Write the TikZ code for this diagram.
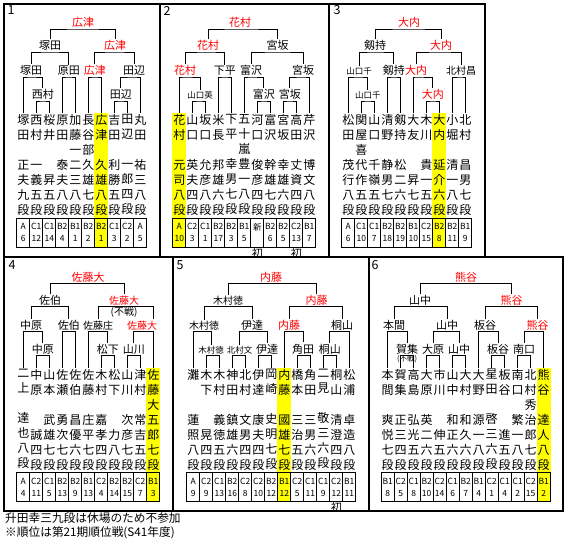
\documentclass[tikz,border=0pt]{standalone}
\usepackage{fontspec}
\setmainfont{Noto Sans CJK JP}
\usepackage{xcolor}
\usepackage{tikz}
\usetikzlibrary{positioning, backgrounds}
\definecolor{rojo}{HTML}{FF0000}
\definecolor{resalte}{HTML}{FFFF00}
\newcommand{\vac}{\phantom{段}}

\begin{document}
\begin{tikzpicture}[
    x=1pt, y=-1pt,
    marco/.style={line width=2pt},
    llave/.style={line width=0.9pt},
    rotulo/.style={anchor=south, inner sep=1.2pt, font=\fontsize{11}{11}\selectfont},
    rotulom/.style={rotulo, font=\fontsize{10}{10}\selectfont},
    rotuloc/.style={rotulo, font=\fontsize{8.5}{8.5}\selectfont},
    gana/.style={text=rojo},
    jugador/.style={anchor=north, align=center, inner xsep=0pt, inner ysep=1.5pt, font=\fontsize{12}{15}\selectfont},
    celda/.style={draw, line width=0.8pt, minimum width=13pt, minimum height=29pt, inner sep=0pt, align=center, font=\fontsize{8.5}{12}\selectfont},
    numero/.style={inner sep=0pt, font=\fontsize{12.5}{12.5}\selectfont},
    inicio/.style={inner sep=0.5pt, font=\fontsize{11}{11}\selectfont},
    fusen/.style={inner sep=0pt, font=\fontsize{10}{10}\selectfont},
    nota/.style={anchor=west, inner sep=0pt, font=\fontsize{11.7}{11.7}\selectfont},
]
\useasboundingbox (0,0) rectangle (568,541);

\draw[marco] (3.5,3.5) rectangle (485,257);
\draw[marco] (3.5,257) rectangle (562.5,510.5);
\draw[marco] (160,3.5) -- (160,257);
\draw[marco] (329,3.5) -- (329,257);
\draw[marco] (173,257) -- (173,510.5);
\draw[marco] (368.5,257) -- (368.5,510.5);

% ---- 1 ----
\node[numero] (n1) at (11, 10.5) {1};
\foreach \xa/\xb/\xc/\xd/\xe/\xf/\cla/\num [count=\i] in {
    塚/田/\vac/正/夫/九/A/6, 西/村/\vac/一/義/五/C1/12, 桜/井/\vac/\vac/昇/五/C1/14,
    原/田/\vac/泰/夫/八/B2/4, 加/藤/一/二/三/八/B1/1, 長/谷/部/久/雄/七/B2/2,
    広/津/\vac/久/雄/八/B2/1, 吉/田/\vac/利/勝/五/C1/3, 田/辺/\vac/一/郎/四/C2/2,
    丸/田/\vac/祐/三/八/A/5} {
  \node[jugador] (p1-\i) at ({23.3+13*(\i-1)}, 113)   {\xa\\\xb\\\xc\\\xd\\\xe\\\xf\\段};
  \node[celda]   (c1-\i) at ({23.3+13*(\i-1)}, 232.5) {\cla\\\num};
}
\begin{scope}[on background layer]
  \fill[resalte] (c1-7.west |- p1-7.north) rectangle (c1-7.south east);
\end{scope}

\node[rotulo, gana] (p1-f)  at (83, 29)     {広津};
\node[rotulo]       (p1-s1) at (50, 52)     {塚田};
\node[rotulo, gana] (p1-s2) at (115, 52)    {広津};
\node[rotulo]       (p1-q1) at (31, 77)     {塚田};
\node[rotulo]       (p1-q2) at (68.8, 77)   {原田};
\node[rotulo, gana] (p1-q3) at (94.8, 77)   {広津};
\node[rotulo]       (p1-q4) at (134, 77)    {田辺};
\node[rotulo]       (p1-r1) at (42.8, 101)  {西村};
\node[rotulo]       (p1-r2) at (120.8, 101) {田辺};

\draw[llave] (p1-s1.north) |- (p1-f.south)  -| (p1-s2.north);
\draw[llave] (p1-q1.north) |- (p1-s1.south) -| (p1-q2.north);
\draw[llave] (p1-q3.north) |- (p1-s2.south) -| (p1-q4.north);
\draw[llave] (p1-1.north)  |- (p1-q1.south) -| (p1-r1.north);
\draw[llave] (p1-2.north)  |- (p1-r1.south) -| (p1-3.north);
\draw[llave] (p1-4.north)  |- (p1-q2.south) -| (p1-5.north);
\draw[llave] (p1-6.north)  |- (p1-q3.south) -| (p1-7.north);
\draw[llave] (p1-r2.north) |- (p1-q4.south) -| (p1-10.north);
\draw[llave] (p1-8.north)  |- (p1-r2.south) -| (p1-9.north);

% ---- 2 ----
\node[numero] (n2) at (167, 10.5) {2};
\foreach \xa/\xb/\xc/\xd/\xe/\xf/\cla/\num [count=\i] in {
    花/村/\vac/元/司/八/A/10, 山/口/\vac/英/夫/四/C2/3, 坂/口/\vac/允/彦/八/C1/1,
    米/長/\vac/邦/雄/六/B2/17, 下/平/\vac/幸/男/七/B2/3, 五/十/嵐/豊/一/八/B1/5,
    河/口/\vac/俊/彦/四/新/\phantom{0}, 富/沢/\vac/幹/雄/七/B2/6, 宮/坂/\vac/幸/雄/六/B2/5,
    高/田/\vac/丈/資/四/C2/13, 芹/沢/\vac/博/文/八/B1/7} {
  \node[jugador] (p2-\i) at ({179.3+13*(\i-1)}, 113)   {\xa\\\xb\\\xc\\\xd\\\xe\\\xf\\段};
  \node[celda]   (c2-\i) at ({179.3+13*(\i-1)}, 232.5) {\cla\\\num};
}
\begin{scope}[on background layer]
  \fill[resalte] (c2-1.west |- p2-1.north) rectangle (c2-1.south east);
\end{scope}
\node[inicio, below=0pt of c2-7]  (p2-ini1) {初};
\node[inicio, below=0pt of c2-10] (p2-ini2) {初};

\node[rotulo, gana] (p2-f)  at (240, 29)     {花村};
\node[rotulo, gana] (p2-s1) at (208, 52)     {花村};
\node[rotulo]       (p2-s2) at (277.5, 52)   {宮坂};
\node[rotulo, gana] (p2-q1) at (185, 77)     {花村};
\node[rotulo]       (p2-q2) at (224.8, 77)   {下平};
\node[rotulo]       (p2-q3) at (251, 77)     {富沢};
\node[rotulo]       (p2-q4) at (303, 77)     {宮坂};
\node[rotuloc]      (p2-r1) at (200, 101)    {山口英};
\node[rotulo]       (p2-r3) at (263.8, 101)  {富沢};
\node[rotulo]       (p2-r4) at (289.8, 101)  {宮坂};

\draw[llave] (p2-s1.north) |- (p2-f.south)  -| (p2-s2.north);
\draw[llave] (p2-q1.north) |- (p2-s1.south) -| (p2-q2.north);
\draw[llave] (p2-q3.north) |- (p2-s2.south) -| (p2-q4.north);
\draw[llave] (p2-1.north)  |- (p2-q1.south) -| (p2-r1.north);
\draw[llave] (p2-2.north)  |- (p2-r1.south) -| (p2-3.north);
\draw[llave] (p2-4.north)  |- (p2-q2.south) -| (p2-5.north);
\draw[llave] (p2-6.north)  |- (p2-q3.south) -| (p2-r3.north);
\draw[llave] (p2-7.north)  |- (p2-r3.south) -| (p2-8.north);
\draw[llave] (p2-r4.north) |- (p2-q4.south) -| (p2-11.north);
\draw[llave] (p2-9.north)  |- (p2-r4.south) -| (p2-10.north);

% ---- 3 ----
\node[numero] (n3) at (337, 10.5) {3};
\foreach \xa/\xb/\xc/\xd/\xe/\xf/\cla/\num [count=\i] in {
    松/田/\vac/茂/行/八/A/6, 関/屋/喜/代/作/五/C1/10, 山/口/\vac/千/嶺/五/C1/7,
    清/野/\vac/静/男/七/B2/18, 剱/持/\vac/松/二/六/B2/19, 大/友/\vac/\vac/昇/七/B1/10,
    木/川/\vac/貴/一/五/C2/15, 大/内/\vac/延/介/六/B2/8, 小/堀/\vac/清/一/八/B2/11,
    北/村/\vac/昌/男/七/B1/9} {
  \node[jugador] (p3-\i) at ({348.3+13*(\i-1)}, 113)   {\xa\\\xb\\\xc\\\xd\\\xe\\\xf\\段};
  \node[celda]   (c3-\i) at ({348.3+13*(\i-1)}, 232.5) {\cla\\\num};
}
\begin{scope}[on background layer]
  \fill[resalte] (c3-8.west |- p3-8.north) rectangle (c3-8.south east);
\end{scope}

\node[rotulo, gana] (p3-f)  at (409, 29)     {大内};
\node[rotulo]       (p3-s1) at (375, 52)     {剱持};
\node[rotulo, gana] (p3-s2) at (441, 52)     {大内};
\node[rotuloc]      (p3-q1) at (359, 77)     {山口千};
\node[rotulo]       (p3-q2) at (393.8, 77)   {剱持};
\node[rotulo, gana] (p3-q3) at (416, 77)     {大内};
\node[rotulom]      (p3-q4) at (461, 77)     {北村昌};
\node[rotuloc]      (p3-r1) at (367.8, 101)  {山口千};
\node[rotulo, gana] (p3-r3) at (432.8, 101)  {大内};

\draw[llave] (p3-s1.north) |- (p3-f.south)  -| (p3-s2.north);
\draw[llave] (p3-q1.north) |- (p3-s1.south) -| (p3-q2.north);
\draw[llave] (p3-q3.north) |- (p3-s2.south) -| (p3-q4.north);
\draw[llave] (p3-1.north)  |- (p3-q1.south) -| (p3-r1.north);
\draw[llave] (p3-2.north)  |- (p3-r1.south) -| (p3-3.north);
\draw[llave] (p3-4.north)  |- (p3-q2.south) -| (p3-5.north);
\draw[llave] (p3-6.north)  |- (p3-q3.south) -| (p3-r3.north);
\draw[llave] (p3-7.north)  |- (p3-r3.south) -| (p3-8.north);
\draw[llave] (p3-9.north)  |- (p3-q4.south) -| (p3-10.north);

\begin{scope}[yshift=-254.5pt]
% ---- 4 ----
\node[numero] (n4) at (12, 10.5) {4};
\foreach \xa/\xb/\xc/\xd/\xe/\xf/\cla/\num [count=\i] in {
    二/上/\vac/達/也/八/A/4, 中/原/\vac/\vac/誠/四/C2/11, 山/本/\vac/武/雄/七/C1/5,
    佐/瀬/\vac/勇/次/七/B2/13, 佐/伯/\vac/昌/優/六/B2/9, 佐/藤/\vac/庄/平/七/B1/13,
    木/村/\vac/嘉/孝/四/C2/4, 松/下/\vac/\vac/力/八/B2/14, 山/川/\vac/次/彦/七/B2/15,
    津/村/\vac/常/吉/五/C2/7, 佐/藤/大/五/郎/七/B1/3} {
  \node[jugador] (p4-\i) at ({23.3+13*(\i-1)}, 113)   {\xa\\\xb\\\xc\\\xd\\\xe\\\xf\\段};
  \node[celda]   (c4-\i) at ({23.3+13*(\i-1)}, 232.5) {\cla\\\num};
}
\begin{scope}[on background layer]
  \fill[resalte] (c4-11.west |- p4-11.north) rectangle (c4-11.south east);
\end{scope}

\node[rotulo, gana]  (p4-f)  at (88, 29)     {佐藤大};
\node[rotulo]        (p4-s1) at (50, 52)     {佐伯};
\node[rotulom, gana] (p4-s2) at (124, 52)    {佐藤大};
\node[fusen, below=0pt of p4-s2] (p4-fusen) {(不戦)};
\node[rotulo]        (p4-q1) at (31, 77)     {中原};
\node[rotulo]        (p4-q2) at (68.8, 77)   {佐伯};
\node[rotulom]       (p4-q3) at (98, 77)     {佐藤庄};
\node[rotulom, gana] (p4-q4) at (142, 77)    {佐藤大};
\node[rotulo]        (p4-r1) at (42.8, 101)  {中原};
\node[rotulo]        (p4-r3) at (107.8, 101) {松下};
\node[rotulo]        (p4-r4) at (133.8, 101) {山川};

\draw[llave] (p4-s1.north) |- (p4-f.south)  -| (p4-s2.north);
\draw[llave] (p4-q1.north) |- (p4-s1.south) -| (p4-q2.north);
\draw[llave] (p4-q3.north) |- (p4-s2.south) -| (p4-q4.north -| p4-11);
\draw[llave] (p4-1.north)  |- (p4-q1.south) -| (p4-r1.north);
\draw[llave] (p4-2.north)  |- (p4-r1.south) -| (p4-3.north);
\draw[llave] (p4-4.north)  |- (p4-q2.south) -| (p4-5.north);
\draw[llave] (p4-6.north)  |- (p4-q3.south) -| (p4-r3.north);
\draw[llave] (p4-7.north)  |- (p4-r3.south) -| (p4-8.north);
\draw[llave] (p4-r4.north) |- (p4-q4.south) -| (p4-11.north);
\draw[llave] (p4-9.north)  |- (p4-r4.south) -| (p4-10.north);

% ---- 5 ----
\node[numero] (n5) at (180, 10.5) {5};
\foreach \xa/\xb/\xc/\xd/\xe/\xf/\cla/\num [count=\i] in {
    灘/\vac/\vac/蓮/照/八/A/9, 木/下/\vac/\vac/晃/四/C2/9, 木/村/\vac/義/徳/五/C1/13,
    神/田/\vac/鎮/雄/六/B2/16, 北/村/\vac/文/男/四/C2/8, 伊/達/\vac/康/夫/四/C2/10,
    岡/崎/\vac/史/明/七/B2/12, 内/藤/\vac/國/雄/七/B1/12, 橋/本/\vac/三/治/五/C2/5,
    角/田/\vac/三/男/六/C1/11, 二/見/\vac/敬/三/六/C1/9, 桐/山/\vac/清/澄/四/C2/12,
    松/浦/\vac/卓/造/八/B1/11} {
  \node[jugador] (p5-\i) at ({193.3+13*(\i-1)}, 113)   {\xa\\\xb\\\xc\\\xd\\\xe\\\xf\\段};
  \node[celda]   (c5-\i) at ({193.3+13*(\i-1)}, 232.5) {\cla\\\num};
}
\begin{scope}[on background layer]
  \fill[resalte] (c5-8.west |- p5-8.north) rectangle (c5-8.south east);
\end{scope}
\node[inicio, below=0pt of c5-12] (p5-ini1) {初};

\node[rotulo, gana] (p5-f)  at (271, 29)     {内藤};
\node[rotulom]      (p5-s1) at (228, 52)     {木村徳};
\node[rotulo, gana] (p5-s2) at (316.5, 52)   {内藤};
\node[rotulom]      (p5-q1) at (204, 77)     {木村徳};
\node[rotulo]       (p5-q2) at (252, 77)     {伊達};
\node[rotulo, gana] (p5-q3) at (289, 77)     {内藤};
\node[rotulo]       (p5-q4) at (342, 77)     {桐山};
\node[rotuloc]      (p5-r1) at (211, 101)    {木村徳};
\node[rotuloc]      (p5-r2) at (239.5, 101)  {北村文};
\node[rotulo]       (p5-r3) at (267, 101)    {伊達};
\node[rotulo]       (p5-r4) at (303, 101)    {角田};
\node[rotulo]       (p5-r5) at (329.8, 101)  {桐山};

\draw[llave] (p5-s1.north) |- (p5-f.south)  -| (p5-s2.north);
\draw[llave] (p5-q1.north) |- (p5-s1.south) -| (p5-q2.north);
\draw[llave] (p5-q3.north) |- (p5-s2.south) -| (p5-q4.north);
\draw[llave] (p5-1.north)  |- (p5-q1.south) -| (p5-r1.north);
\draw[llave] (p5-2.north)  |- (p5-r1.south) -| (p5-3.north);
\draw[llave] (p5-r2.north) |- (p5-q2.south) -| (p5-r3.north);
\draw[llave] (p5-4.north)  |- (p5-r2.south) -| (p5-5.north);
\draw[llave] (p5-6.north)  |- (p5-r3.south) -| (p5-7.north);
\draw[llave] (p5-8.north)  |- (p5-q3.south) -| (p5-r4.north);
\draw[llave] (p5-9.north)  |- (p5-r4.south) -| (p5-10.north);
\draw[llave] (p5-r5.north) |- (p5-q4.south) -| (p5-13.north);
\draw[llave] (p5-11.north) |- (p5-r5.south) -| (p5-12.north);

% ---- 6 ----
\node[numero] (n6) at (375, 10.5) {6};
\foreach \xa/\xb/\xc/\xd/\xe/\xf/\cla/\num [count=\i] in {
    本/間/\vac/爽/悦/七/B1/8, 賀/集/\vac/正/三/四/C2/5, 高/島/\vac/弘/光/五/C1/8,
    大/原/\vac/英/二/六/B2/10, 市/川/\vac/\vac/伸/五/C2/14, 山/中/\vac/和/正/六/C1/6,
    大/村/\vac/和/久/六/B2/7, 大/野/\vac/源/一/八/B1/4, 星/田/\vac/啓/三/六/C2/1,
    板/谷/\vac/\vac/進/五/C1/4, 南/口/\vac/繁/一/八/C1/2, 北/村/秀/治/郎/七/C2/15,
    熊/谷/\vac/達/人/八/B1/2} {
  \node[jugador] (p6-\i) at ({387.7+13*(\i-1)}, 113)   {\xa\\\xb\\\xc\\\xd\\\xe\\\xf\\段};
  \node[celda]   (c6-\i) at ({387.7+13*(\i-1)}, 232.5) {\cla\\\num};
}
\begin{scope}[on background layer]
  \fill[resalte] (c6-13.west |- p6-13.north) rectangle (c6-13.south east);
\end{scope}

\node[rotulo, gana] (p6-f)  at (466, 29)     {熊谷};
\node[rotulo]       (p6-s1) at (420, 52)     {山中};
\node[rotulo, gana] (p6-s2) at (511.5, 52)   {熊谷};
\node[rotulo]       (p6-q1) at (394, 77)     {本間};
\node[rotulo]       (p6-q2) at (447, 77)     {山中};
\node[rotulo]       (p6-q3) at (485, 77)     {板谷};
\node[rotulo, gana] (p6-q4) at (537.5, 77)   {熊谷};
\node[rotulo]       (p6-r1) at (407.2, 101)  {賀集};
\node[fusen, font=\fontsize{7.5}{7.5}\selectfont, below=0pt of p6-r1] (p6-fusen) {(不戦)};
\node[rotulo]       (p6-r2) at (433.2, 101)  {大原};
\node[rotulo]       (p6-r3) at (459.2, 101)  {山中};
\node[rotulo]       (p6-r4) at (498.2, 101)  {板谷};
\node[rotulo]       (p6-r5) at (524.2, 101)  {南口};

\draw[llave] (p6-s1.north) |- (p6-f.south)  -| (p6-s2.north);
\draw[llave] (p6-q1.north) |- (p6-s1.south) -| (p6-q2.north);
\draw[llave] (p6-q3.north) |- (p6-s2.south) -| (p6-q4.north);
\draw[llave] (p6-1.north)  |- (p6-q1.south) -| (p6-r1.north);
\draw[llave] (p6-2.north)  |- (p6-r1.south) -| (p6-3.north);
\draw[llave] (p6-r2.north) |- (p6-q2.south) -| (p6-r3.north);
\draw[llave] (p6-4.north)  |- (p6-r2.south) -| (p6-5.north);
\draw[llave] (p6-6.north)  |- (p6-r3.south) -| (p6-7.north);
\draw[llave] (p6-8.north)  |- (p6-q3.south) -| (p6-r4.north);
\draw[llave] (p6-9.north)  |- (p6-r4.south) -| (p6-10.north);
\draw[llave] (p6-r5.north) |- (p6-q4.south) -| (p6-13.north);
\draw[llave] (p6-11.north) |- (p6-r5.south) -| (p6-12.north);
\end{scope}

\node[nota] (nota1) at (5, 518) {升田幸三九段は休場のため不参加};
\node[nota] (nota2) at (5, 533) {※順位は第21期順位戦(S41年度)};

\end{tikzpicture}
\end{document}
